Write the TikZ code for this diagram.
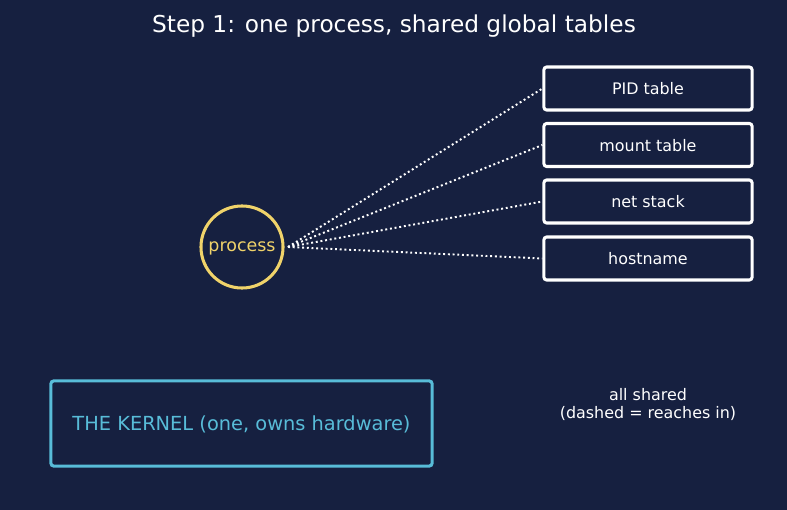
\documentclass[tikz,border=0pt]{standalone}
\usepackage{fontspec}
\setmainfont{DejaVu Sans}
\usepackage{tikz}
\usetikzlibrary{positioning,backgrounds}
\definecolor{night}   {HTML}{162040}
\definecolor{sun}     {HTML}{F0D36A}
\definecolor{sky}     {HTML}{58BCD8}
\definecolor{chalk}   {HTML}{FFFFFF}
\tikzset{
  every node/.style={font=\fontsize{11.5}{13.5}\selectfont, text=chalk},
  % --- nodes
  tbl/.style   = {rounded corners=2pt, draw=chalk, line width=2.2pt, minimum width=2.08in,
                  minimum height=0.43in, inner sep=0pt, text depth=0pt},
  proc/.style  = {circle, draw=sun, line width=2.2pt, minimum size=0.82in, inner sep=0pt,
                  text=sun, text depth=0pt, font=\fontsize{12.6}{14}\selectfont},
  kern/.style  = {rounded corners=2pt, draw=sky, line width=2.2pt, minimum width=3.81in,
                  minimum height=0.85in, inner sep=0pt, text=sky, text depth=0pt,
                  font=\fontsize{14}{16}\selectfont},
  note/.style  = {align=center, font=\fontsize{11.5}{12.5}\selectfont},
  % --- edges
  reach/.style = {draw=chalk, line width=1.4pt, dash pattern=on 1.4pt off 2pt},
}

\begin{document}
\begin{tikzpicture}[x=0.01in, y=-0.01in]
  \fill[night] (0,0) rectangle (787,510);
  \useasboundingbox (0,0) rectangle (787,510);

  \node[font=\fontsize{16.8}{19}\selectfont] (title) at (394,26)
    {Step 1: one process, shared global tables};

  \node[proc] (proc) at (242,247) {process};

  \node[tbl] (pid)  at (648,88.5)  {PID table};
  \node[tbl] (mnt)  at (648,145)   {mount table};
  \node[tbl] (net)  at (648,201.5) {net stack};
  \node[tbl] (host) at (648,258.5) {hostname};

  \coordinate (tap) at (288,247);
  \foreach \t in {pid,mnt,net,host}
    \draw[reach] (tap) -- (\t.west);

  \node[kern] (kernel) at (241.5,423.5) {THE KERNEL (one, owns hardware)};

  \node[note] (shared) at (648,404.5) {all shared\\(dashed = reaches in)};
\end{tikzpicture}
\end{document}
